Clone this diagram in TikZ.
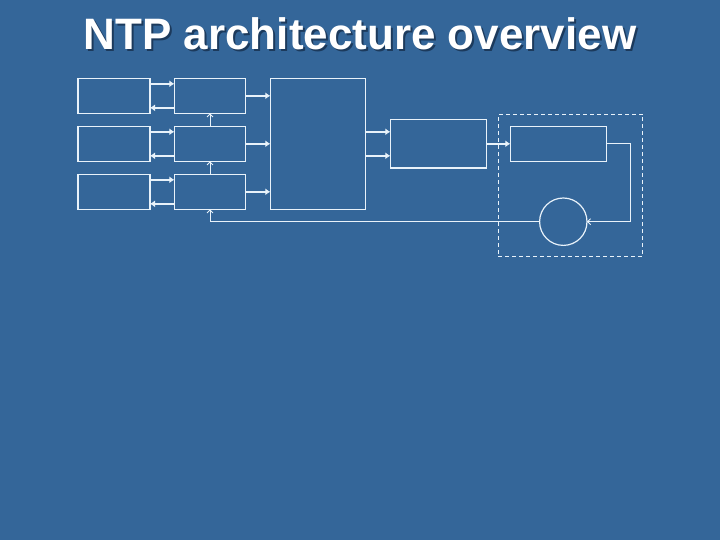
\documentclass[tikz,border=0pt]{standalone}
\usepackage{fontspec}
\setmainfont{Liberation Sans}
\usepackage{tikz}
\usetikzlibrary{arrows.meta}

\definecolor{slideblue}{RGB}{52,102,153}
\definecolor{lineblue}{RGB}{232,242,250}
\definecolor{shadowblue}{RGB}{28,58,92}

\newcommand{\slidetitle}[1]{\makebox[0pt][l]{\raisebox{-2pt}{\hspace{2pt}\textcolor{shadowblue}{#1}}}#1}

\begin{document}
\begin{tikzpicture}[x=1pt,y=-1pt,>=latex,
  blk/.style={draw=lineblue,line width=1.2pt,inner sep=0pt,outer sep=0pt},
  link/.style={-{Latex[length=5pt,width=7pt]},draw=lineblue,line width=2pt},
  sync/.style={-{Straight Barb[length=3pt,width=6pt]},draw=lineblue,line width=0.9pt}]
%background
\fill[slideblue] (0,0) rectangle (720,540);
%title
\node[anchor=base,text=white] (title) at (360,50)
  {\fontsize{44}{44}\selectfont\bfseries\slidetitle{NTP architecture overview}};
%peers and filters
\foreach \x/\y in {1/95.8,2/143.8,3/191.8}
{
  \node[blk,minimum width=72,minimum height=35] (peer\x) at (114,\y) {};
  \node[blk,minimum width=71.4,minimum height=35] (filt\x) at (210,\y) {};
  % peer to filter and back
  \draw[link] ([yshift=12pt]peer\x.east) -- ([yshift=12pt]filt\x.west);
  \draw[link] ([yshift=-12pt]filt\x.west) -- ([yshift=-12pt]peer\x.east);
}
%selection and clustering
\node[blk,minimum width=95.4,minimum height=131] (select) at (318,143.8) {};
\node[blk,minimum width=96.4,minimum height=48.4] (cluster) at (438.5,143.8) {};
% filters to selection
\foreach \x in {1,2,3}
  \draw[link] (filt\x.east) -- (filt\x.east -| select.west);
\draw[link] ([yshift=12pt]select.east) -- ([yshift=12pt]cluster.west);
\draw[link] ([yshift=-12pt]select.east) -- ([yshift=-12pt]cluster.west);
%clock discipline
\node[draw=lineblue,dashed,dash pattern=on 4pt off 3pt,line width=1pt,
  minimum width=144.4,minimum height=142.4,inner sep=0pt] (host) at (570.5,185.5) {};
\node[blk,minimum width=96.4,minimum height=35] (local) at (558.5,143.8) {};
\node[blk,circle,minimum size=47.4] (osc) at (563.3,221.7) {};
\draw[link] (cluster.east) -- (local.west);
% feedback loop
\coordinate (corner) at (630.3,143.8);
\draw[sync] (local.east) -- (corner) |- (osc.east);
\draw[sync] (osc.west) -| (filt3.south);
\draw[sync] (filt3.north) -- (filt2.south);
\draw[sync] (filt2.north) -- (filt1.south);
\end{tikzpicture}
\end{document}
